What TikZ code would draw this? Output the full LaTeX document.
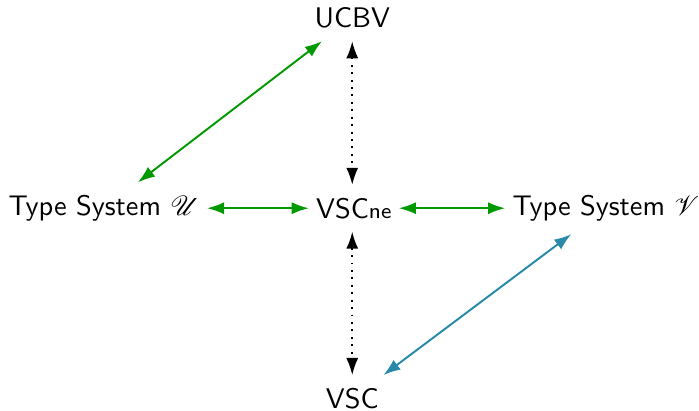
\documentclass[tikz,border=0pt]{standalone}
\usepackage{tikz}
\usepackage{mathrsfs}
\usetikzlibrary{arrows.meta}

\definecolor{relgreen}{RGB}{0,153,0}
\definecolor{relteal}{RGB}{41,137,168}

\tikzset{
  sys/.style={font=\sffamily\fontsize{10.3pt}{12pt}\selectfont, inner xsep=2.5pt, inner ysep=4.5pt},
  rel/.style={line width=0.7pt, {Latex[length=6.2pt,width=4.4pt]}-{Latex[length=6.2pt,width=4.4pt]}},
  simrel/.style={rel, black, dotted},
}

\begin{document}
\begin{tikzpicture}
\useasboundingbox (0,0) rectangle (8.93,5.24);

%systems
\node[sys] (ucbv) at (4.50,5.01) {UCBV};
\node[sys] (tu) at (1.33,2.58) {Type System $\mathscr{U}$};
\node[sys] (vscne) at (4.52,2.58) {VSC{\footnotesize ne}};
\node[sys] (tv) at (7.74,2.58) {Type System $\mathscr{V}$};
\node[sys] (vsc) at (4.50,0.15) {VSC};

%relations
\draw[rel, relgreen] (tu) -- (ucbv);
\draw[rel, relgreen] (tu) -- (vscne);
\draw[rel, relgreen] (vscne) -- (tv);
\draw[rel, relteal] (tv) -- (vsc);
\draw[simrel] (ucbv) -- (ucbv |- vscne.north);
\draw[simrel] (ucbv |- vscne.south) -- (vsc);

\end{tikzpicture}
\end{document}
